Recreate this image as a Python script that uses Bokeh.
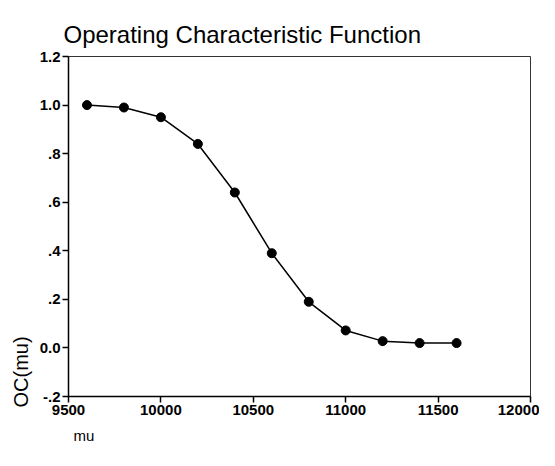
from bokeh.plotting import figure
from bokeh.models import Range1d, FixedTicker, Title
from bokeh.embed import file_html
from bokeh.resources import INLINE

mu = [9600, 9800, 10000, 10200, 10400, 10600, 10800, 11000, 11200, 11400, 11600]
oc = [1.0, 0.99, 0.95, 0.84, 0.64, 0.39, 0.19, 0.072, 0.028, 0.02, 0.02]

x_ticks = [9500, 10000, 10500, 11000, 11500, 12000]
y_ticks = [-0.2, 0.0, 0.2, 0.4, 0.6, 0.8, 1.0, 1.2]
y_tick_labels = ["-.2", "0.0", ".2", ".4", ".6", ".8", "1.0", "1.2"]

FONT = "Liberation Sans"

p = figure(width=539, height=450, output_backend="svg", toolbar_location=None,
           x_range=Range1d(9500, 12000), y_range=Range1d(-0.2, 1.2),
           min_border_left=68, min_border_right=9, min_border_top=56, min_border_bottom=53,
           title="Operating Characteristic Function")
p.grid.visible = False
p.background_fill_color = "white"
p.border_fill_color = "white"
p.outline_line_color = "#333333"
p.outline_line_width = 1

p.title.text_font = FONT
p.title.text_font_size = "24px"
p.title.text_font_style = "normal"
p.title.text_color = "black"
p.title.align = "left"
p.title.offset = -5
p.title.standoff = 18

for ax in (p.xaxis[0], p.yaxis[0]):
    ax.axis_line_width = 1.5
    ax.axis_line_color = "black"
    ax.major_tick_in = 0
    ax.major_tick_out = 6
    ax.major_tick_line_width = 1.5
    ax.minor_tick_line_color = None
    ax.major_label_text_font = FONT
    ax.major_label_text_font_size = "15px"
    ax.major_label_text_font_style = "bold"
    ax.major_label_text_color = "black"

p.xaxis.ticker = FixedTicker(ticks=x_ticks)
p.xaxis.major_label_standoff = 2

p.yaxis.ticker = FixedTicker(ticks=y_ticks)
p.yaxis.major_label_overrides = {t: s for t, s in zip(y_ticks, y_tick_labels)}
p.yaxis.major_label_standoff = 2

p.add_layout(Title(text="OC(mu)", align="left", offset=-11, standoff=10,
                   text_font=FONT, text_font_size="20px", text_font_style="normal",
                   text_color="black"), "left")
p.add_layout(Title(text="mu", align="left", offset=5, standoff=14,
                   text_font=FONT, text_font_size="15px", text_font_style="normal",
                   text_color="black", text_line_height=0.8), "below")

p.line(mu, oc, line_color="black", line_width=1.5)
p.scatter(mu, oc, size=9, fill_color="black", line_color="black")

open("out.html", "w").write(file_html(p, INLINE))
